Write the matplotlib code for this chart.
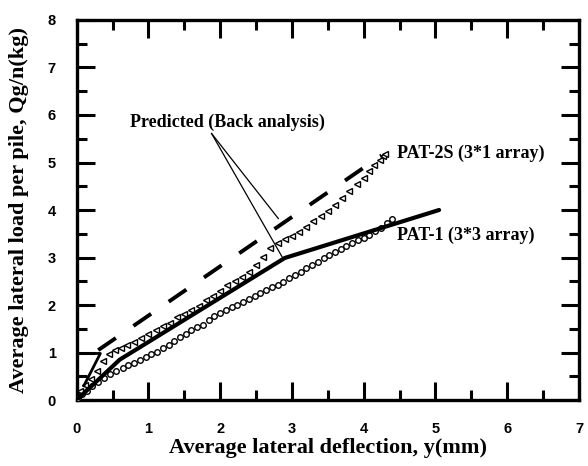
import matplotlib.pyplot as plt
from matplotlib.ticker import MultipleLocator

# measured: PAT-1 (3*3 array), open circles
pat1_x = [0.02, 0.08, 0.15, 0.22, 0.30, 0.38, 0.46, 0.55, 0.64, 0.72, 0.80, 0.88, 0.96,
          1.04, 1.12, 1.20, 1.28, 1.36, 1.44, 1.52, 1.60, 1.68, 1.76, 1.84, 1.92, 2.00,
          2.08, 2.16, 2.24, 2.32, 2.40, 2.48, 2.56, 2.64, 2.72, 2.80, 2.88, 2.96, 3.04,
          3.12, 3.20, 3.28, 3.36, 3.44, 3.52, 3.60, 3.68, 3.76, 3.84, 3.92, 4.00, 4.08,
          4.16, 4.24, 4.32, 4.40]
pat1_y = [0.05, 0.12, 0.20, 0.29, 0.38, 0.47, 0.55, 0.62, 0.68, 0.73, 0.78, 0.84, 0.90,
          0.96, 1.02, 1.09, 1.16, 1.24, 1.32, 1.40, 1.47, 1.53, 1.58, 1.68, 1.77, 1.83,
          1.89, 1.95, 2.01, 2.07, 2.13, 2.19, 2.25, 2.31, 2.37, 2.43, 2.49, 2.56, 2.63,
          2.70, 2.77, 2.84, 2.91, 2.98, 3.05, 3.12, 3.18, 3.24, 3.30, 3.36, 3.42, 3.48,
          3.55, 3.62, 3.72, 3.82]

# measured: PAT-2S (3*1 array), open triangles
pat2_x = [0.05, 0.12, 0.20, 0.28, 0.37, 0.45, 0.53, 0.62, 0.70, 0.80, 0.90, 1.00, 1.10,
          1.20, 1.30, 1.40, 1.50, 1.60, 1.70, 1.80, 1.90, 2.00, 2.10, 2.20, 2.30, 2.40,
          2.50, 2.60, 2.70, 2.80, 2.90, 3.00, 3.10, 3.20, 3.30, 3.40, 3.50, 3.60, 3.70,
          3.80, 3.90, 4.00, 4.08, 4.15, 4.22, 4.27, 4.30]
pat2_y = [0.18, 0.32, 0.45, 0.62, 0.82, 0.96, 1.05, 1.10, 1.15, 1.22, 1.30, 1.38, 1.47,
          1.55, 1.63, 1.74, 1.82, 1.90, 1.98, 2.10, 2.20, 2.30, 2.42, 2.50, 2.60, 2.70,
          2.85, 3.02, 3.20, 3.30, 3.38, 3.45, 3.54, 3.64, 3.76, 3.88, 3.98, 4.10, 4.25,
          4.40, 4.55, 4.68, 4.82, 4.95, 5.06, 5.14, 5.18]

# predicted (back analysis)
pred1_x = [0, 0.60, 2.90, 5.05]
pred1_y = [0, 0.85, 2.99, 4.00]
pred2_x = [0.30, 4.25]
pred2_y = [1.05, 5.15]
pred2_start_x = [0, 0.33, 0.10]
pred2_start_y = [0.98, 0.98, 0.30]

serif = 'Liberation Serif'
sans = 'Liberation Sans'

fig = plt.figure(figsize=(5.88, 4.66), dpi=100)
ax = fig.add_axes([0.1304, 0.1416, 0.8543, 0.8155])

ax.plot(pat1_x, pat1_y, 'o', mfc='white', mec='black', ms=4, mew=1.0, zorder=3)
ax.plot(pat2_x, pat2_y, '<', mfc='white', mec='black', ms=5, mew=1.0, zorder=3)
ax.plot(pred1_x, pred1_y, color='black', lw=3.0, solid_capstyle='round', zorder=4)
ax.plot(pred2_x, pred2_y, color='black', lw=2.8, linestyle=(0, (5.5, 5.5)), zorder=4)
ax.plot(pred2_start_x, pred2_start_y, color='black', lw=2.0, zorder=4)

# leader lines from the annotation
ax.plot([1.88, 2.81], [5.61, 3.82], color='black', lw=0.9)
ax.plot([1.88, 2.86], [5.61, 3.02], color='black', lw=0.9)

ax.text(0.74, 5.85, 'Predicted (Back analysis)', family=serif, fontweight='bold',
        fontsize=13, va='center', ha='left')
ax.text(4.46, 5.2, 'PAT-2S (3*1 array)', family=serif, fontweight='bold',
        fontsize=13, va='center', ha='left')
ax.text(4.46, 3.47, 'PAT-1 (3*3 array)', family=serif, fontweight='bold',
        fontsize=13, va='center', ha='left')

ax.set_xlim(0, 7)
ax.set_ylim(0, 8)
ax.xaxis.set_major_locator(MultipleLocator(1))
ax.xaxis.set_minor_locator(MultipleLocator(0.5))
ax.yaxis.set_major_locator(MultipleLocator(1))
ax.yaxis.set_minor_locator(MultipleLocator(0.5))
ax.tick_params(which='both', direction='in', top=True, right=True, width=2.2)
ax.tick_params(which='major', length=13)
ax.tick_params(which='minor', length=7)
ax.tick_params(axis='x', which='major', pad=16)
ax.tick_params(axis='y', which='major', pad=15)
for lab in ax.get_xticklabels() + ax.get_yticklabels():
    lab.set_family(sans)
    lab.set_fontweight('bold')
    lab.set_fontsize(10.5)
for sp in ax.spines.values():
    sp.set_linewidth(2.4)

ax.set_xlabel('Average lateral deflection, y(mm)', family=serif, fontweight='bold', fontsize=16)
ax.set_ylabel('Average lateral load per pile, Qg/n(kg)', family=serif, fontweight='bold', fontsize=16)
ax.xaxis.set_label_coords(0.5, -0.1)
ax.yaxis.set_label_coords(-0.095, 0.5)

fig.savefig('out.png', dpi=100)
